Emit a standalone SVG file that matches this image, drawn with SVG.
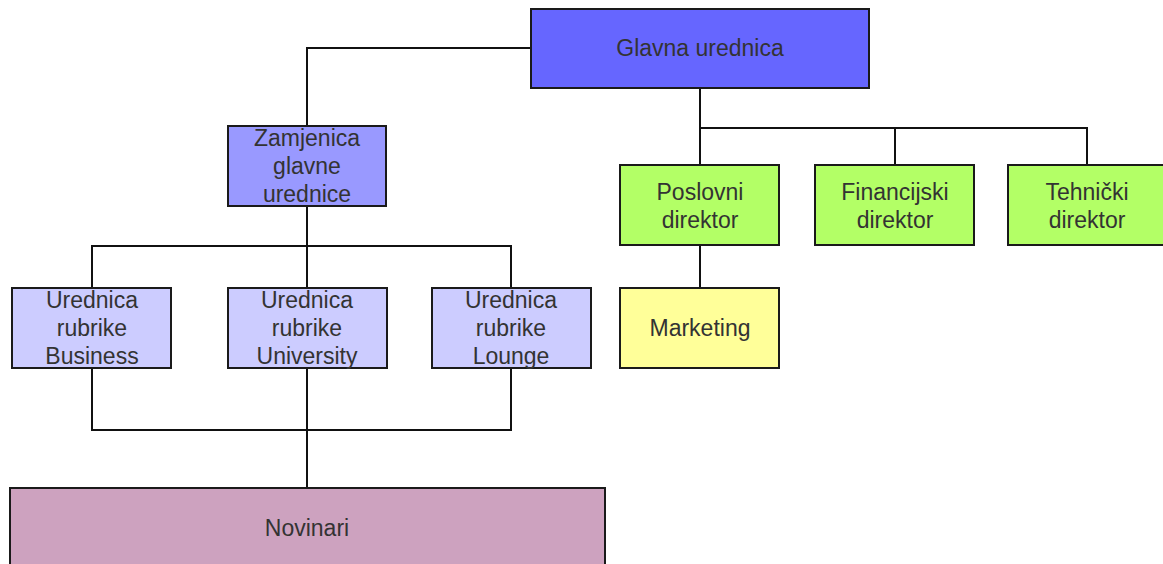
<svg xmlns="http://www.w3.org/2000/svg" width="1163" height="564" viewBox="0 0 1163 564">
<style>
.box{stroke:#1a1a1a;stroke-width:2}
.t{font-family:"Liberation Sans",Arial,sans-serif;font-size:23px;fill:#333;text-anchor:middle;dominant-baseline:central}
.c{fill:none;stroke:#111;stroke-width:2}
</style>
<rect width="1163" height="564" fill="#fff"/>
<g id="connectors">
<path class="c" d="M531,48 H307 V126"/>
<path class="c" d="M700,88 V165 M700,128 H1087 V165 M895,128 V165"/>
<path class="c" d="M700,245 V288"/>
<path class="c" d="M307,206 V288 M92,288 V246 H511 V288"/>
<path class="c" d="M92,368 V430 H511 V368 M307,368 V488"/>
</g>
<g id="glavna"><rect class="box" x="531" y="9" width="338" height="79" fill="#6666ff"/><text class="t" x="700" y="48">Glavna urednica</text></g>
<g id="zamjenica"><rect class="box" x="228" y="126" width="158" height="80" fill="#9999ff"/><text class="t" x="307" y="138">Zamjenica</text><text class="t" x="307" y="166">glavne</text><text class="t" x="307" y="194">urednice</text></g>
<g id="business"><rect class="box" x="12" y="288" width="159" height="80" fill="#ccccff"/><text class="t" x="92" y="300">Urednica</text><text class="t" x="92" y="328">rubrike</text><text class="t" x="92" y="356">Business</text></g>
<g id="university"><rect class="box" x="228" y="288" width="159" height="80" fill="#ccccff"/><text class="t" x="307" y="300">Urednica</text><text class="t" x="307" y="328">rubrike</text><text class="t" x="307" y="356">University</text></g>
<g id="lounge"><rect class="box" x="432" y="288" width="159" height="80" fill="#ccccff"/><text class="t" x="511" y="300">Urednica</text><text class="t" x="511" y="328">rubrike</text><text class="t" x="511" y="356">Lounge</text></g>
<g id="poslovni"><rect class="box" x="620" y="165" width="159" height="80" fill="#b3ff66"/><text class="t" x="700" y="192">Poslovni</text><text class="t" x="700" y="220">direktor</text></g>
<g id="financijski"><rect class="box" x="815" y="165" width="159" height="80" fill="#b3ff66"/><text class="t" x="895" y="192">Financijski</text><text class="t" x="895" y="220">direktor</text></g>
<g id="tehnicki"><rect class="box" x="1008" y="165" width="158" height="80" fill="#b3ff66"/><text class="t" x="1087" y="192">Tehnički</text><text class="t" x="1087" y="220">direktor</text></g>
<g id="marketing"><rect class="box" x="620" y="288" width="159" height="80" fill="#ffff99"/><text class="t" x="700" y="328">Marketing</text></g>
<g id="novinari"><rect class="box" x="10" y="488" width="595" height="90" fill="#cda2bf"/><text class="t" x="307" y="528">Novinari</text></g>
</svg>
